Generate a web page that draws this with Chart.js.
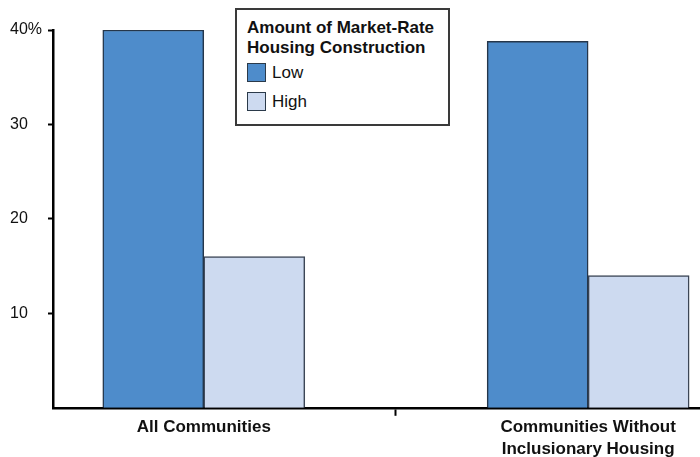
<!DOCTYPE html>
<html>
<head>
<meta charset="utf-8">
<script src="https://cdn.jsdelivr.net/npm/chart.js@4/dist/chart.umd.min.js"></script>
<style>
  html, body { margin: 0; padding: 0; background: #fff; }
  #wrap { position: relative; width: 700px; height: 457px; overflow: hidden; }
  #legend {
    position: absolute; left: 235px; top: 8px; width: 201px; height: 106px;
    border: 2px solid #3a3a3a; background: #fff;
    font-family: "Liberation Sans", Arial, sans-serif; color: #111;
    padding: 8px 0 0 10px;
  }
  #legend .title { font-weight: bold; font-size: 17px; line-height: 20px; }
  #legend .item { display: flex; align-items: center; font-size: 17px; height: 29px; margin-top: 0; }
  #legend .sw { width: 17px; height: 17px; border: 1.5px solid #2b3a4a; margin-right: 6px; }
</style>
</head>
<body>
<div id="wrap">
  <canvas id="barChart" width="700" height="460"></canvas>
  <div id="legend"></div>
</div>
<script>
// カテゴリ（x位置 1, 2）
const categories = ['All Communities', ['Communities Without', 'Inclusionary Housing']];
const categoryPos = [1, 2];
const lowValues = [40, 38.8];
const highValues = [16, 14];
const seriesNames = ['Low', 'High'];
const yTicks = [10, 20, 30, 40];
const legendTitle = ['Amount of Market-Rate', 'Housing Construction'];

const toPoints = vals => vals.map((v, i) => ({ x: categoryPos[i], y: v }));

function createBarChart() {
    const ctx = document.getElementById('barChart').getContext('2d');

    const chart = new Chart(ctx, {
        type: 'bar',
        data: {
            datasets: [{
                label: seriesNames[0],
                data: toPoints(lowValues),
                backgroundColor: '#4e8ccb',
                borderColor: '#25364a',
                borderWidth: 1.5
            }, {
                label: seriesNames[1],
                data: toPoints(highValues),
                backgroundColor: '#cddaf0',
                borderColor: '#3c4656',
                borderWidth: 1.5
            }]
        },
        options: {
            responsive: false,
            animation: false,
            layout: { padding: { left: 10, right: 0, top: 30, bottom: 0 } },
            datasets: { bar: { barThickness: 101 } },
            plugins: {
                legend: { display: false },
                tooltip: { enabled: false }
            },
            scales: {
                x: {
                    type: 'linear',
                    offset: false,
                    min: 0.6078,
                    max: 2.291,
                    afterBuildTicks: scale => {
                        scale.ticks = [1, 1.5, 2].map(v => ({ value: v }));
                    },
                    grid: {
                        offset: false,
                        drawOnChartArea: false,
                        tickLength: 8,
                        tickWidth: 2,
                        tickColor: c => (c.tick && c.tick.value === 1.5 ? '#000' : 'rgba(0,0,0,0)')
                    },
                    border: { color: '#000', width: 2.5 },
                    ticks: {
                        autoSkip: false,
                        maxRotation: 0,
                        padding: 0,
                        color: '#111',
                        font: { family: '"Liberation Sans", Arial, sans-serif', size: 17, weight: 'bold', lineHeight: 1.3 },
                        callback: value => {
                            const i = categoryPos.indexOf(value);
                            return i >= 0 ? categories[i] : '';
                        }
                    }
                },
                y: {
                    min: 0,
                    max: 40,
                    afterBuildTicks: scale => {
                        scale.ticks = yTicks.map(v => ({ value: v }));
                    },
                    grid: {
                        drawOnChartArea: false,
                        tickLength: 5,
                        tickWidth: 2,
                        tickColor: '#000'
                    },
                    border: { color: '#000', width: 2.5 },
                    ticks: {
                        crossAlign: 'far',
                        padding: 3,
                        color: '#111',
                        font: { family: '"Liberation Sans", Arial, sans-serif', size: 16 },
                        callback: value => (value === 40 ? value + '%' : String(value))
                    }
                }
            }
        }
    });

    // 凡例（HTML）
    const legend = document.getElementById('legend');
    let html = '<div class="title">' + legendTitle.join('<br>') + '</div>';
    chart.data.datasets.forEach(ds => {
        html += '<div class="item"><span class="sw" style="background:' + ds.backgroundColor +
            '"></span>' + ds.label + '</div>';
    });
    legend.innerHTML = html;
}

createBarChart();
</script>
</body>
</html>
